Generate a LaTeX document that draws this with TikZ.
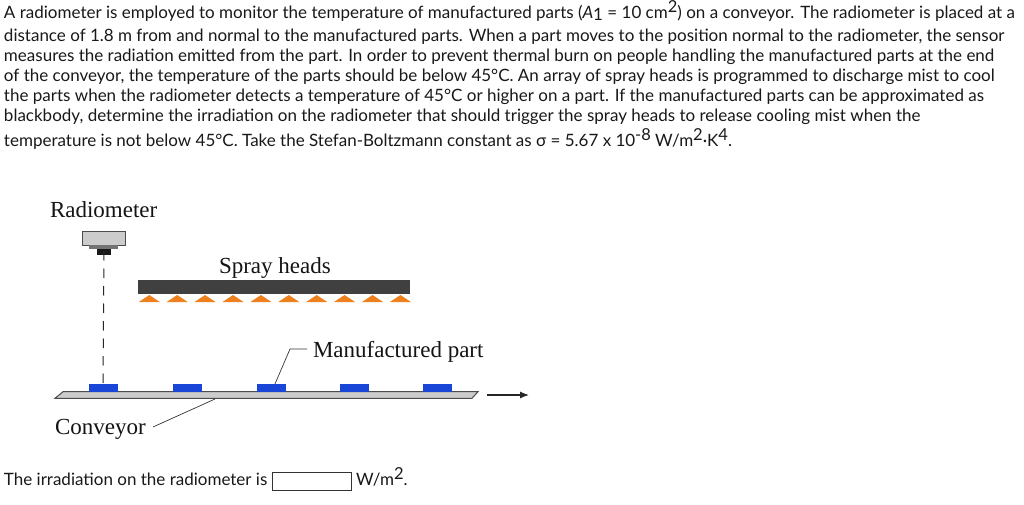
\documentclass[tikz,border=0pt]{standalone}
\usepackage{fontspec}
\setmainfont{Lato}
\newfontfamily\figfont{Liberation Serif}
\usetikzlibrary{arrows.meta}
\definecolor{sprayorange}{RGB}{238,128,30}
\definecolor{partblue}{RGB}{25,70,215}
\newcommand{\sps}[1]{\raisebox{6pt}{\fontsize{16.5}{17}\selectfont #1}}
\newcommand{\sbs}[1]{\raisebox{-1.5pt}{#1}}
\tikzset{
  qtext/.style={anchor=base west,inner sep=0pt,outer sep=0pt,font=\fontsize{17}{20}\selectfont,text=black!90},
  figlabel/.style={anchor=base west,inner sep=0pt,outer sep=0pt,font=\figfont\fontsize{23}{26}\selectfont,text=black!92},
  blockbox/.style={rectangle,inner sep=0pt,outer sep=0pt,minimum width=#1},
  partbox/.style={blockbox=29pt,minimum height=8pt,fill=partblue},
  leader/.style={draw=black!80,line width=0.7pt},
}
\begin{document}
\begin{tikzpicture}[x=1pt,y=-1pt]
\useasboundingbox (0,0) rectangle (1024,505);
\fill[white] (0,0) rectangle (1024,505);
% question text
\node[qtext] (l1) at (4,19) {A radiometer is employed to monitor the temperature of manufactured parts (\textit{A}\sbs{1} = 10 cm\sps{2}) on a conveyor. The radiometer is placed at a};
\node[qtext] (l2) at (4,41.5) {distance of 1.8 m from and normal to the manufactured parts. When a part moves to the position normal to the radiometer, the sensor};
\node[qtext] (l3) at (4,62) {measures the radiation emitted from the part. In order to prevent thermal burn on people handling the manufactured parts at the end};
\node[qtext] (l4) at (4,82) {of the conveyor, the temperature of the parts should be below 45°C. An array of spray heads is programmed to discharge mist to cool};
\node[qtext] (l5) at (4,102) {the parts when the radiometer detects a temperature of 45°C or higher on a part. If the manufactured parts can be approximated as};
\node[qtext] (l6) at (4,122) {blackbody, determine the irradiation on the radiometer that should trigger the spray heads to release cooling mist when the};
\node[qtext] (l7) at (4,147) {temperature is not below 45°C. Take the Stefan-Boltzmann constant as σ = 5.67 x 10\sps{-8} W/m\sps{2}·K\sps{4}.};
% figure labels
\node[figlabel] (radlabel) at (50,217) {Radiometer};
\node[figlabel] (spraylabel) at (219,273) {Spray heads};
\node[figlabel] (partlabel) at (313,357) {Manufactured part};
\node[figlabel] (convlabel) at (55,434) {Conveyor};
% radiometer
\node[blockbox=43pt,minimum height=14pt,fill=black!20,draw=black!70,line width=0.8pt] (radbody) at (103.5,238) {};
\node[blockbox=29pt,minimum height=4pt,fill=black!55] (radneck) at (103.5,247) {};
\node[blockbox=14pt,minimum height=6pt,fill=black!90] (radlens) at (104,252) {};
% spray heads
\node[blockbox=272pt,minimum height=14pt,fill=black!75] (spraybar) at (274,287) {};
\foreach \i in {0,...,9}{
  \fill[sprayorange] ({149.3+27.9*\i-10.5},302) -- ({149.3+27.9*\i},295) -- ({149.3+27.9*\i+10.5},302) -- cycle;
}
% conveyor
\draw[fill=black!20,draw=black!70,line width=1pt] (55,398.3) -- (63,391.7) -- (478,391.7) -- (472,398.3) -- cycle;
% parts
\node[partbox] (p1) at (103.5,388) {};
\node[partbox] (p2) at (187.5,388) {};
\node[partbox] (p3) at (271.5,388) {};
\node[partbox] (p4) at (354,388) {};
\node[partbox] (p5) at (437.5,388) {};
% connectors
\draw[dashed,dash pattern=on 9.5pt off 8pt,line width=1pt,black!85] ([yshift=4pt]radlens.south) -- ([yshift=-6pt,xshift=-0.5pt]p1.north);
\coordinate (partknee) at (290,349);
\coordinate (partend) at (307,349);
\coordinate (partfoot) at (275,384);
\draw[leader] (partfoot) -- (partknee) -- (partend);
\coordinate (convfoot) at (215,399);
\coordinate (convend) at (153,427);
\draw[leader] (convfoot) -- (convend);
\coordinate (arrowstart) at (487,395);
\coordinate (arrowend) at (529,395);
\draw[line width=1.2pt,black!85,-{Latex[length=9pt,width=7pt]}] (arrowstart) -- (arrowend);
% answer line
\node[qtext] (anslabel) at (4,485) {The irradiation on the radiometer is};
\node[blockbox=79pt,minimum height=18.5pt,draw=black!80,line width=0.8pt,fill=white] (ansbox) at (312,481.3) {};
\node[qtext] (ansunit) at (356,485) {W/m\sps{2}.};
\end{tikzpicture}
\end{document}
